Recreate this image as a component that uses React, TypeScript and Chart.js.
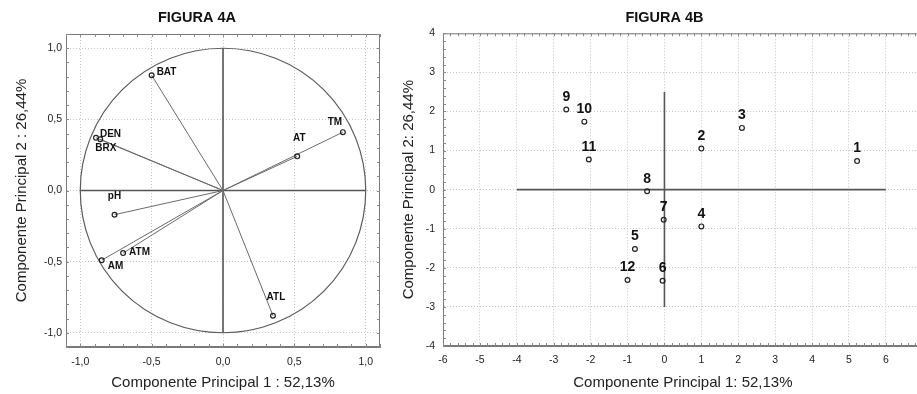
import React, { useEffect, useRef } from "react";
import { Chart, registerables } from "chart.js";
Chart.register(...registerables);

// ---- Figure 4A: variable loadings ----
const variables = ["BAT", "TM", "AT", "DEN", "BRX", "pH", "ATM", "AM", "ATL"];
const pc1Loadings = [-0.5, 0.84, 0.52, -0.89, -0.86, -0.76, -0.7, -0.85, 0.35];
const pc2Loadings = [0.81, 0.41, 0.24, 0.37, 0.36, -0.17, -0.44, -0.49, -0.88];
const loadingTicks = [-1, -0.5, 0, 0.5, 1];

// ---- Figure 4B: sample scores ----
const samples = ["1", "2", "3", "4", "5", "6", "7", "8", "9", "10", "11", "12"];
const pc1Scores = [5.22, 1.0, 2.1, 1.0, -0.8, -0.05, -0.02, -0.47, -2.66, -2.17, -2.05, -1.0];
const pc2Scores = [0.73, 1.05, 1.58, -0.94, -1.52, -2.33, -0.77, -0.04, 2.05, 1.74, 0.77, -2.31];
const scoreXTicks = [-6, -5, -4, -3, -2, -1, 0, 1, 2, 3, 4, 5, 6];
const scoreYTicks = [-4, -3, -2, -1, 0, 1, 2, 3, 4];

const FAMILY = "'Liberation Sans', Arial, sans-serif";

type Place = [number, number, CanvasTextAlign];
// label placement (styling only): [dx, dy, align]
const loadingLabelPlacement: Record<string, Place> = {
  BAT: [5, -3, "left"],
  TM: [-8, -10, "center"],
  AT: [2, -18, "center"],
  DEN: [4, -4, "left"],
  BRX: [-5, 9, "left"],
  pH: [0, -18, "center"],
  ATM: [6, -1, "left"],
  AM: [6, 6, "left"],
  ATL: [3, -18, "center"],
};

function makeFramePlugin(minorX: number, minorY: number) {
  return {
    id: "frame",
    beforeDatasetsDraw(chart: any) {
      const { ctx, chartArea: a, scales } = chart;
      ctx.save();
      ctx.strokeStyle = "#7a7a7a";
      ctx.lineWidth = 1;
      ctx.strokeRect(a.left + 0.5, a.top + 0.5, a.right - a.left - 1, a.bottom - a.top - 1);
      ctx.strokeStyle = "#888";
      const drawMinor = (scale: any, step: number, horizontal: boolean) => {
        const k0 = Math.ceil(scale.min / step - 1e-6);
        const k1 = Math.floor(scale.max / step + 1e-6);
        ctx.beginPath();
        for (let k = k0; k <= k1; k++) {
          const p = Math.round(scale.getPixelForValue(k * step)) + 0.5;
          if (horizontal) {
            ctx.moveTo(p, a.top);
            ctx.lineTo(p, a.top + 3);
            ctx.moveTo(p, a.bottom);
            ctx.lineTo(p, a.bottom - 3);
          } else {
            ctx.moveTo(a.left, p);
            ctx.lineTo(a.left + 3, p);
            ctx.moveTo(a.right, p);
            ctx.lineTo(a.right - 3, p);
          }
        }
        ctx.stroke();
      };
      drawMinor(scales.x, minorX, true);
      drawMinor(scales.y, minorY, false);
      ctx.restore();
    },
  };
}

const circlePlugin = {
  id: "unitCircle",
  beforeDatasetsDraw(chart: any) {
    const { ctx, scales } = chart;
    const cx = scales.x.getPixelForValue(0);
    const cy = scales.y.getPixelForValue(0);
    const rx = scales.x.getPixelForValue(1) - cx;
    const ry = cy - scales.y.getPixelForValue(1);
    ctx.save();
    ctx.strokeStyle = "#5a5a5a";
    ctx.lineWidth = 1.2;
    ctx.beginPath();
    ctx.ellipse(cx, cy, rx, ry, 0, 0, Math.PI * 2);
    ctx.stroke();
    ctx.restore();
  },
};

function makeLabelPlugin(labels: string[], font: string, placement: (l: string) => Place) {
  return {
    id: "pointLabels",
    afterDatasetsDraw(chart: any) {
      const meta = chart.getDatasetMeta(0);
      const { ctx } = chart;
      ctx.save();
      ctx.fillStyle = "#111";
      ctx.font = font;
      ctx.textBaseline = "middle";
      labels.forEach((lab, i) => {
        const el = meta.data[i];
        if (!el) return;
        const pl = placement(lab);
        ctx.textAlign = pl[2];
        ctx.fillText(lab, el.x + pl[0], el.y + pl[1]);
      });
      ctx.restore();
    },
  };
}

const tickFont = { family: FAMILY, size: 10.5 };
const titleFont = { family: FAMILY, size: 15 };

function LoadingsChart() {
  const ref = useRef<HTMLCanvasElement>(null);
  useEffect(() => {
    const points = variables.map((_, i) => ({ x: pc1Loadings[i], y: pc2Loadings[i] }));
    const vectors: any[] = [];
    variables.forEach((_, i) => {
      vectors.push({ x: 0, y: 0 }, { x: pc1Loadings[i], y: pc2Loadings[i] }, { x: 0, y: null });
    });
    const axes = [
      { x: loadingTicks[0], y: 0 },
      { x: loadingTicks[loadingTicks.length - 1], y: 0 },
      { x: 0, y: null },
      { x: 0, y: loadingTicks[0] },
      { x: 0, y: loadingTicks[loadingTicks.length - 1] },
    ];
    const fmt = (v: any) => Number(v).toFixed(1).replace(".", ",");
    const chart = new Chart(ref.current!, {
      type: "scatter",
      data: {
        datasets: [
          {
            data: points,
            pointRadius: 2.4,
            pointBorderColor: "#222",
            pointBackgroundColor: "rgba(255,255,255,0)",
            pointBorderWidth: 1.2,
            order: 0,
          } as any,
          { data: vectors, showLine: true, borderColor: "#6a6a6a", borderWidth: 1, pointRadius: 0, order: 1 } as any,
          { data: axes, showLine: true, borderColor: "#555", borderWidth: 1.6, pointRadius: 0, order: 2 } as any,
        ],
      },
      options: {
        responsive: false,
        animation: false,
        devicePixelRatio: 1,
        events: [],
        layout: { padding: { left: 14, right: 15, top: 0, bottom: 0 } },
        plugins: {
          legend: { display: false },
          tooltip: { enabled: false },
          title: {
            display: true,
            text: "FIGURA 4A",
            color: "#111",
            font: { family: FAMILY, size: 14.5, weight: "bold" },
            padding: { top: 9, bottom: 7.6 },
          },
        },
        scales: {
          x: {
            type: "linear",
            min: -1.1,
            max: 1.1,
            afterBuildTicks: (s: any) => {
              s.ticks = loadingTicks.map((v) => ({ value: v }));
            },
            afterFit: (s: any) => {
              s.height = 47;
            },
            grid: { color: "#c4c4c4", drawTicks: false },
            border: { color: "#7a7a7a", dash: [1, 2] },
            ticks: { padding: 9, font: tickFont, color: "#222", callback: fmt },
            title: {
              display: true,
              text: "Componente Principal 1 : 52,13%",
              color: "#222",
              font: titleFont,
              padding: { top: 0, bottom: 2 },
            },
          },
          y: {
            type: "linear",
            min: -1.1,
            max: 1.1,
            afterBuildTicks: (s: any) => {
              s.ticks = loadingTicks.map((v) => ({ value: v }));
            },
            afterFit: (s: any) => {
              s.width = 52;
            },
            grid: { color: "#c4c4c4", drawTicks: false },
            border: { color: "#7a7a7a", dash: [1, 2] },
            ticks: { padding: 4, font: tickFont, color: "#222", callback: fmt },
            title: {
              display: true,
              text: "Componente Principal 2 : 26,44%",
              color: "#222",
              font: titleFont,
              padding: { top: -1, bottom: 0 },
            },
          },
        },
      } as any,
      plugins: [
        makeFramePlugin(0.1, 0.1),
        circlePlugin,
        makeLabelPlugin(variables, `bold 10px ${FAMILY}`, (l) => loadingLabelPlacement[l]),
      ],
    });
    return () => chart.destroy();
  }, []);
  return <canvas ref={ref} width={395} height={394} style={{ position: "absolute", left: 0, top: 0 }} />;
}

function ScoresChart() {
  const ref = useRef<HTMLCanvasElement>(null);
  useEffect(() => {
    const points = samples.map((_, i) => ({ x: pc1Scores[i], y: pc2Scores[i] }));
    const axes = [
      { x: -4, y: 0 },
      { x: 6, y: 0 },
      { x: 0, y: null },
      { x: 0, y: -3 },
      { x: 0, y: 2.5 },
    ];
    const chart = new Chart(ref.current!, {
      type: "scatter",
      data: {
        datasets: [
          {
            data: points,
            pointRadius: 2.4,
            pointBorderColor: "#222",
            pointBackgroundColor: "rgba(255,255,255,0)",
            pointBorderWidth: 1.2,
            order: 0,
          } as any,
          { data: axes, showLine: true, borderColor: "#555", borderWidth: 1.6, pointRadius: 0, order: 1 } as any,
        ],
      },
      options: {
        responsive: false,
        animation: false,
        devicePixelRatio: 1,
        events: [],
        layout: { padding: { left: 6, right: 0, top: 0, bottom: 0 } },
        plugins: {
          legend: { display: false },
          tooltip: { enabled: false },
          title: {
            display: true,
            text: "FIGURA 4B",
            color: "#111",
            font: { family: FAMILY, size: 14.5, weight: "bold" },
            padding: { top: 9, bottom: 6.9 },
          },
        },
        scales: {
          x: {
            type: "linear",
            min: -6,
            max: 7,
            afterBuildTicks: (s: any) => {
              s.ticks = scoreXTicks.map((v) => ({ value: v }));
            },
            afterFit: (s: any) => {
              s.height = 48;
            },
            grid: { color: "#c4c4c4", drawTicks: false },
            border: { color: "#7a7a7a", dash: [1, 2] },
            ticks: { padding: 8, font: tickFont, color: "#222" },
            title: {
              display: true,
              text: "Componente Principal 1: 52,13%",
              color: "#222",
              font: titleFont,
              padding: { top: 0, bottom: 2 },
            },
          },
          y: {
            type: "linear",
            min: -4,
            max: 4,
            afterBuildTicks: (s: any) => {
              s.ticks = scoreYTicks.map((v) => ({ value: v }));
            },
            afterFit: (s: any) => {
              s.width = 42;
            },
            grid: { color: "#c4c4c4", drawTicks: false },
            border: { color: "#7a7a7a", dash: [1, 2] },
            ticks: { padding: 8, font: tickFont, color: "#222" },
            title: {
              display: true,
              text: "Componente Principal 2: 26,44%",
              color: "#222",
              font: titleFont,
              padding: { top: -1, bottom: 0 },
            },
          },
        },
      } as any,
      plugins: [
        makeFramePlugin(0.2, 0.2),
        makeLabelPlugin(samples, `bold 14px ${FAMILY}`, () => [0, -12.5, "center"]),
      ],
    });
    return () => chart.destroy();
  }, []);
  return <canvas ref={ref} width={533} height={394} style={{ position: "absolute", left: 395, top: 0 }} />;
}

export default function App() {
  return (
    <div
      style={{
        position: "fixed",
        left: 0,
        top: 0,
        width: 917,
        height: 394,
        overflow: "hidden",
        background: "#fff",
      }}
    >
      <LoadingsChart />
      <ScoresChart />
    </div>
  );
}
